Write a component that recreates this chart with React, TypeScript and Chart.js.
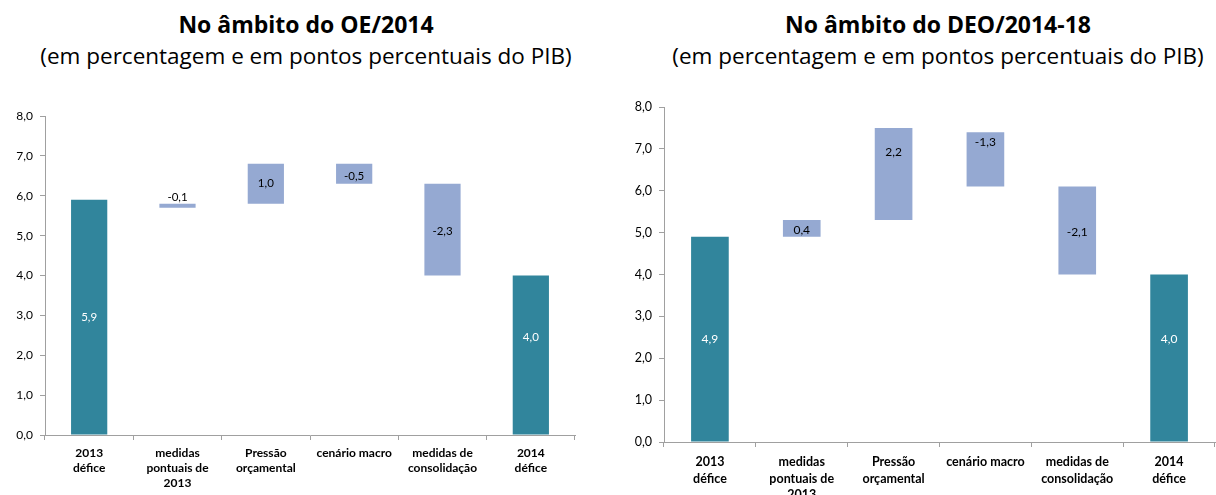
import React, { useEffect, useRef } from "react";
import { Chart, registerables } from "chart.js";
Chart.register(...registerables);

const categories: string[][] = [
  ["2013", "défice"],
  ["medidas", "pontuais de", "2013"],
  ["Pressão", "orçamental"],
  ["cenário macro"],
  ["medidas de", "consolidação"],
  ["2014", "défice"],
];
const barKind = ["total", "delta", "delta", "delta", "delta", "total"];

const oeStart = [0, 5.7, 5.8, 6.3, 4.0, 0];
const oeEnd = [5.9, 5.8, 6.8, 6.8, 6.3, 4.0];
const oeLabels = ["5,9", "-0,1", "1,0", "-0,5", "-2,3", "4,0"];
const oeLabelPos = [2.95, 5.97, 6.3, 6.5, 5.12, 2.46];

const deoStart = [0, 4.9, 5.3, 6.1, 4.0, 0];
const deoEnd = [4.9, 5.3, 7.5, 7.4, 6.1, 4.0];
const deoLabels = ["4,9", "0,4", "2,2", "-1,3", "-2,1", "4,0"];
const deoLabelPos = [2.45, 5.07, 6.93, 7.16, 5.02, 2.46];

const yMin = 0;
const yMax = 8;
const yStep = 1;

const TEAL = "#31859C";
const LIGHT = "#95A9D2";
const AXIS = "#A0A0A0";

type Props = {
  start: number[];
  end: number[];
  labels: string[];
  labelPos: number[];
  left: number;
  top: number;
  width: number;
  height: number;
  yWidth: number;
  xHeight: number;
  padRight: number;
  fontSize: number;
  lineHeight: number;
  xPad: number;
};

function Waterfall(p: Props) {
  const ref = useRef<HTMLCanvasElement | null>(null);
  useEffect(() => {
    if (!ref.current) return;
    const labelPlugin = {
      id: "wfLabels",
      afterDatasetsDraw(chart: any) {
        const ctx = chart.ctx;
        const meta = chart.getDatasetMeta(0);
        const ys = chart.scales.y;
        ctx.save();
        ctx.font = `${p.fontSize - 0.5}px Lato`;
        ctx.textAlign = "center";
        ctx.textBaseline = "middle";
        meta.data.forEach((el: any, i: number) => {
          ctx.fillStyle = barKind[i] === "total" ? "#FFFFFF" : "#000000";
          ctx.fillText(p.labels[i], el.x, ys.getPixelForValue(p.labelPos[i]));
        });
        ctx.restore();
      },
    };
    const chart = new Chart(ref.current, {
      type: "bar",
      data: {
        labels: categories,
        datasets: [
          {
            data: p.start.map((s, i) => [s, p.end[i]]) as any,
            backgroundColor: barKind.map((k) => (k === "total" ? TEAL : LIGHT)),
            borderWidth: 0,
            barPercentage: 0.41,
            categoryPercentage: 1,
          },
        ],
      },
      options: {
        animation: false,
        responsive: true,
        maintainAspectRatio: false,
        layout: { padding: { top: 16, right: p.padRight, left: 0, bottom: 0 } },
        plugins: { legend: { display: false }, tooltip: { enabled: false }, title: { display: false } },
        scales: {
          x: {
            afterFit: (s: any) => {
              s.height = p.xHeight;
            },
            border: { display: true, color: AXIS, width: 1 },
            grid: { offset: true, drawOnChartArea: false, drawTicks: true, tickLength: 5, color: AXIS },
            ticks: {
              color: "#000",
              maxRotation: 0,
              autoSkip: false,
              padding: p.xPad,
              font: { family: "Lato", size: p.fontSize, weight: "bold", lineHeight: p.lineHeight / p.fontSize },
            },
          },
          y: {
            min: yMin,
            max: yMax,
            afterFit: (s: any) => {
              s.width = p.yWidth;
            },
            border: { display: true, color: AXIS, width: 1 },
            grid: { drawOnChartArea: false, drawTicks: true, tickLength: 5, color: AXIS },
            ticks: {
              stepSize: yStep,
              color: "#000",
              padding: 7,
              font: { family: "Lato", size: p.fontSize },
              callback: (v: any) => Number(v).toFixed(1).replace(".", ","),
            },
          },
        },
      } as any,
      plugins: [labelPlugin],
    });
    return () => chart.destroy();
  }, []);
  return (
    <div style={{ position: "absolute", left: p.left, top: p.top, width: p.width, height: p.height }}>
      <canvas ref={ref} />
    </div>
  );
}

const titleStyle: React.CSSProperties = {
  position: "absolute",
  width: 640,
  textAlign: "center",
  fontFamily: "'Open Sans'",
  lineHeight: "32px",
  color: "#000",
  whiteSpace: "nowrap",
};

export default function App() {
  useEffect(() => {
    document.body.style.margin = "0";
  }, []);
  return (
    <div style={{ position: "relative", width: 1216, height: 495, background: "#fff", overflow: "hidden" }}>
      <div style={{ ...titleStyle, left: 306 - 320, top: 8 }}>
        <div style={{ fontWeight: 700, fontSize: 23 }}>No âmbito do OE/2014</div>
        <div style={{ fontSize: 22.5 }}>(em percentagem e em pontos percentuais do PIB)</div>
      </div>
      <div style={{ ...titleStyle, left: 938 - 320, top: 8 }}>
        <div style={{ fontWeight: 700, fontSize: 23 }}>No âmbito do DEO/2014-18</div>
        <div style={{ fontSize: 22.5 }}>(em percentagem e em pontos percentuais do PIB)</div>
      </div>
      <Waterfall
        start={oeStart}
        end={oeEnd}
        labels={oeLabels}
        labelPos={oeLabelPos}
        left={0}
        top={100}
        width={600}
        height={395}
        yWidth={45}
        xHeight={60}
        padRight={25}
        fontSize={12}
        lineHeight={15}
        xPad={6}
      />
      <Waterfall
        start={deoStart}
        end={deoEnd}
        labels={deoLabels}
        labelPos={deoLabelPos}
        left={620}
        top={91}
        width={596}
        height={404}
        yWidth={44}
        xHeight={53}
        padRight={1}
        fontSize={12.5}
        lineHeight={16.5}
        xPad={7}
      />
    </div>
  );
}
